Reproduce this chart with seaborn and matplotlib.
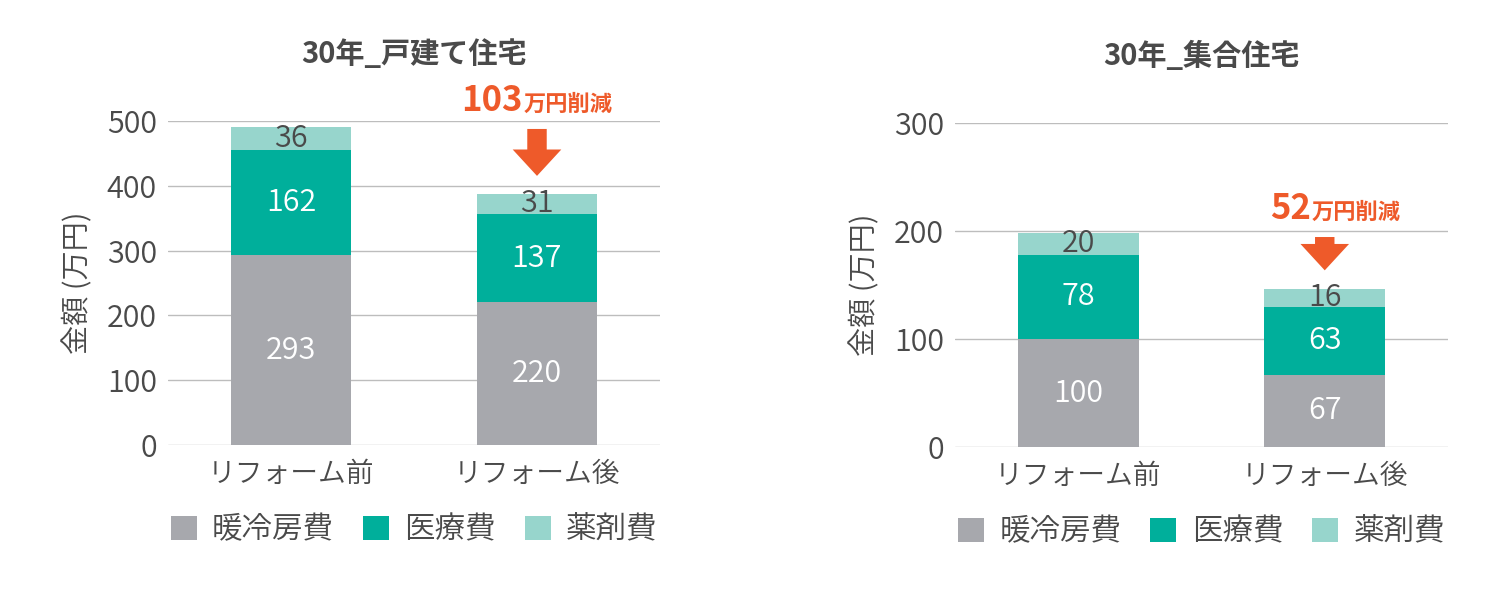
import numpy as np
import pandas as pd
import matplotlib
matplotlib.use("Agg")
import matplotlib.pyplot as plt
from matplotlib.patches import FancyArrowPatch, Patch
import seaborn as sns

# ---- data ----
categories = ["リフォーム前", "リフォーム後"]
series_names = ["暖冷房費", "医療費", "薬剤費"]
house_heating = [293, 220]
house_medical = [162, 137]
house_drug = [36, 31]
apt_heating = [100, 67]
apt_medical = [78, 63]
apt_drug = [20, 16]
titles = ["30年_戸建て住宅", "30年_集合住宅"]
reductions = ["103", "52"]
ylabel = "金額 (万円)"
yticks_house = [0, 100, 200, 300, 400, 500]
yticks_apt = [0, 100, 200, 300]

colors = ["#A7A8AD", "#00AF9B", "#97D5CC"]
orange = "#EE5A2A"
txt = "#4A4A4A"

sns.set_theme(style="white")
plt.rcParams["font.family"] = ["Noto Sans CJK JP", "DejaVu Sans"]
W = 350

fig = plt.figure(figsize=(14.95, 6.03), dpi=100)
ax1 = fig.add_axes([168/1495, 1-445/603, 492/1495, 324/603])
ax2 = fig.add_axes([955/1495, 1-447/603, 493/1495, 324/603])


def draw(ax, heat, med, drug, yticks, title, red, red_text_y, arrow_top, arrow_tip):
    df = pd.DataFrame({"cat": categories, "heat": heat, "med": med, "drug": drug})
    df["s2"] = df["heat"] + df["med"]
    df["s3"] = df["s2"] + df["drug"]
    for col, c in [("s3", colors[2]), ("s2", colors[1]), ("heat", colors[0])]:
        sns.barplot(data=df, x="cat", y=col, color=c, width=0.49, ax=ax,
                    saturation=1, edgecolor="none", linewidth=0, zorder=3)
    ax.set_ylim(0, yticks[-1])
    ax.set_xlim(-0.5, 1.5)
    ax.set_yticks(yticks)
    ax.yaxis.grid(True, color="#BDBDBD", linewidth=1.0, zorder=0)
    ax.set_axisbelow(True)
    for s in ax.spines.values():
        s.set_visible(False)
    ax.tick_params(axis="y", length=0, labelsize=22, colors=txt, pad=8)
    ax.tick_params(axis="x", length=0, labelsize=20, colors=txt, pad=10)
    for lab in ax.get_xticklabels() + ax.get_yticklabels():
        lab.set_fontweight(W)
    ax.set_xlabel("")
    ax.set_ylabel(ylabel, fontsize=21, color=txt, labelpad=10, fontweight=W)
    ax.set_title(title, fontsize=21, fontweight="bold", color=txt, pad=42)
    for i in range(len(categories)):
        ax.text(i, heat[i] / 2, str(heat[i]), ha="center", va="center",
                color="white", fontsize=22, zorder=5, fontweight=W)
        ax.text(i, heat[i] + med[i] / 2, str(med[i]), ha="center", va="center",
                color="white", fontsize=22, zorder=5, fontweight=W)
        ax.text(i, heat[i] + med[i] + drug[i] / 2, str(drug[i]), ha="center",
                va="center", color=txt, fontsize=22, zorder=5, fontweight=W)
    # annotation
    ax.annotate(red, xy=(1, red_text_y), xytext=(-14, 0), textcoords="offset pixels",
                ha="right", va="baseline", fontsize=25, fontweight="bold",
                color=orange, annotation_clip=False)
    ax.annotate("万円削減", xy=(1, red_text_y), xytext=(-13, 0), textcoords="offset pixels",
                ha="left", va="baseline", fontsize=16, fontweight="bold",
                color=orange, annotation_clip=False)
    arr = FancyArrowPatch((1, arrow_top), (1, arrow_tip),
                          arrowstyle="simple,head_width=3.5,head_length=1.9,tail_width=1.4",
                          mutation_scale=10, color=orange, linewidth=0, zorder=6,
                          clip_on=False)
    ax.add_patch(arr)


draw(ax1, house_heating, house_medical, house_drug, yticks_house, titles[0],
     reductions[0], 516, 492, 411)
draw(ax2, apt_heating, apt_medical, apt_drug, yticks_apt, titles[1],
     reductions[1], 211, 197, 161)

for ax in (ax1, ax2):
    handles = [Patch(facecolor=c, edgecolor="none") for c in colors]
    leg = ax.legend(handles, series_names, loc="upper center", bbox_to_anchor=(0.5, -0.13),
                    ncol=3, frameon=False, fontsize=22, handlelength=0.85, handleheight=0.85,
                    columnspacing=0.95, handletextpad=0.5, labelcolor=txt)
    for t in leg.get_texts():
        t.set_fontweight(W)

fig.savefig("out.png", dpi=100)
